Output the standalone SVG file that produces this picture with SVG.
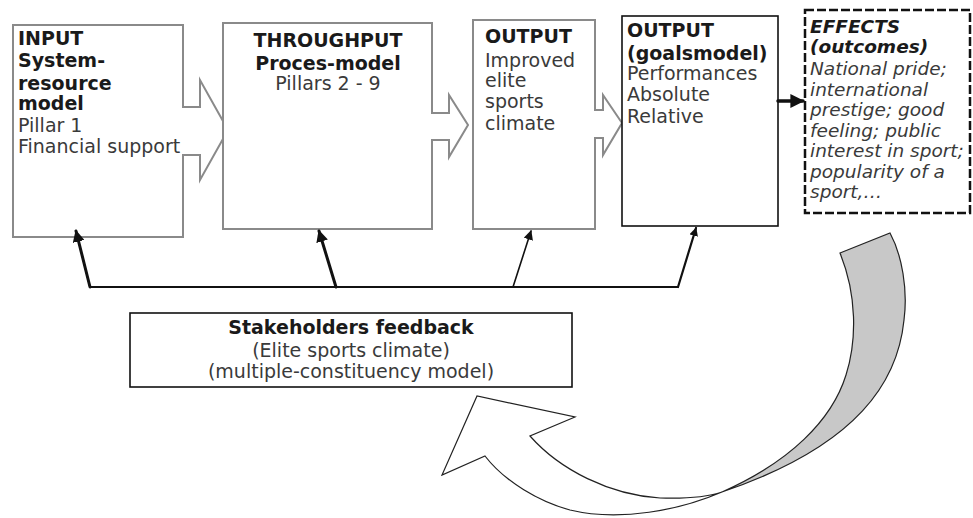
<svg xmlns="http://www.w3.org/2000/svg" width="973" height="518" viewBox="0 0 973 518">
<style>
text{font-family:"DejaVu Sans","Liberation Sans",sans-serif;font-size:19px;fill:#3a3a3a}
.b{font-weight:bold;fill:#1a1a1a}
.i{font-style:italic;font-size:18.5px}
.gbox{fill:#fff;stroke:#8a8a8a;stroke-width:2}
.kbox{fill:#fff;stroke:#111;stroke-width:1.6}
.fb{fill:none;stroke:#111;stroke-linecap:round}
</style>
<defs>
<marker id="ah" viewBox="0 0 10 10" refX="9" refY="5" markerWidth="4" markerHeight="4" orient="auto" markerUnits="strokeWidth">
<path d="M0,0 L10,5 L0,10 z" fill="#111"/>
</marker>
<marker id="ah2" viewBox="0 0 10 10" refX="9" refY="5" markerWidth="6" markerHeight="6" orient="auto" markerUnits="strokeWidth">
<path d="M0,0 L10,5 L0,10 z" fill="#111"/>
</marker>
</defs>

<g id="input">
<path class="gbox" d="M13,25 H183 V107 H200 V80 L228,130 L200,180 V155 H183 V237 H13 Z"/>
<text x="18" y="45" class="b">INPUT</text>
<text x="18" y="67" class="b">System-</text>
<text x="18" y="90" class="b">resource</text>
<text x="18" y="110" class="b">model</text>
<text x="18" y="132">Pillar 1</text>
<text x="18" y="153">Financial support</text>
</g>

<g id="throughput">
<path class="gbox" d="M223,23 H432 V113 H449 V95 L468,125 L449,157 V140 H432 V229 H223 Z"/>
<text x="328" y="47" class="b" text-anchor="middle">THROUGHPUT</text>
<text x="328" y="70" class="b" text-anchor="middle">Proces-model</text>
<text x="328" y="90" text-anchor="middle">Pillars 2 - 9</text>
</g>

<g id="output">
<path class="gbox" d="M473,20 H595 V110 H603 V95 L622,123 L603,155 V138 H595 V229 H473 Z"/>
<text x="485" y="43" class="b">OUTPUT</text>
<text x="485" y="67">Improved</text>
<text x="485" y="87">elite</text>
<text x="485" y="108">sports</text>
<text x="485" y="130">climate</text>
</g>

<g id="goals">
<rect class="kbox" x="622" y="16" width="156" height="210"/>
<text x="627" y="37" class="b">OUTPUT</text>
<text x="627" y="60" class="b">(goalsmodel)</text>
<text x="627" y="80">Performances</text>
<text x="627" y="101">Absolute</text>
<text x="627" y="123">Relative</text>
</g>

<g id="effects">
<rect x="805" y="10" width="165" height="203" fill="#fff" stroke="#111" stroke-width="2.5" stroke-dasharray="9 3"/>
<text x="810" y="33" class="b i">EFFECTS</text>
<text x="810" y="53" class="b i">(outcomes)</text>
<text x="810" y="75" class="i">National pride;</text>
<text x="810" y="95.5" class="i">international</text>
<text x="810" y="116" class="i">prestige; good</text>
<text x="810" y="136.5" class="i">feeling; public</text>
<text x="810" y="157" class="i">interest in sport;</text>
<text x="810" y="177.5" class="i">popularity of a</text>
<text x="810" y="198" class="i">sport,…</text>
</g>

<g id="stakeholders">
<rect class="kbox" x="130" y="313" width="442" height="74"/>
<text x="351" y="334" class="b" text-anchor="middle">Stakeholders feedback</text>
<text x="351" y="357" text-anchor="middle">(Elite sports climate)</text>
<text x="351" y="378" text-anchor="middle">(multiple-constituency model)</text>
</g>

<g id="cycle-arrow">
<path d="M840,253 L890,233 C902,255 908,290 904,320 C898,380 860,445 722,492 C790,462 832,420 846,375 C857,340 857,295 840,253 Z" fill="#c8c8c8" stroke="#222" stroke-width="1.2"/>
<path d="M722,492 C680,510 620,522 570,510 C540,502 505,482 485,456 L442,475 L477,396 L575,417 L530,436 C560,470 610,495 660,498 C690,499 710,496 722,492 Z" fill="#fff" stroke="#222" stroke-width="1.2"/>
</g>

<g id="connectors">
<line x1="778" y1="101" x2="803" y2="101" class="fb" stroke-width="3.5" marker-end="url(#ah)"/>
<path class="fb" stroke-width="2.2" d="M90,287 H678"/>
<path class="fb" stroke-width="3" d="M90,287 L76,231" marker-end="url(#ah)"/>
<path class="fb" stroke-width="3" d="M336,287 L319,231" marker-end="url(#ah)"/>
<path class="fb" stroke-width="1.6" d="M513,287 L531,231" marker-end="url(#ah2)"/>
<path class="fb" stroke-width="2.2" d="M678,287 L696,228" marker-end="url(#ah)"/>
</g>
</svg>
